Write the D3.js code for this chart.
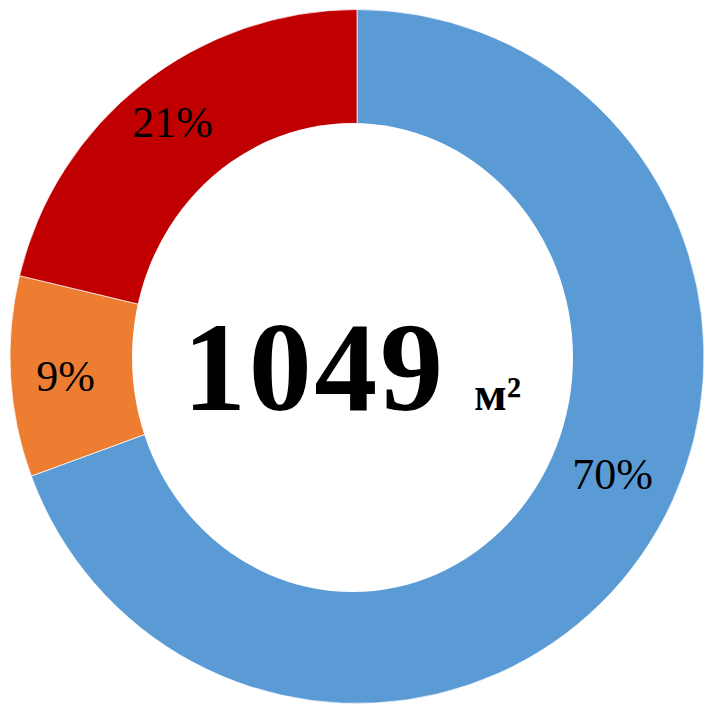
<!DOCTYPE html>
<html>
<head>
<meta charset="utf-8">
<script src="https://cdn.jsdelivr.net/npm/d3@7"></script>
<style>
	html, body { margin: 0; padding: 0; background: #fff; }
	svg { display: block; }
</style>
</head>
<body>
<svg id="svg_main" width="706" height="704"></svg>
<script>
// areas in m², share of the total
var categories = ["blue", "orange", "red"],
	values = [728, 98, 223],
	labels = ["70%", "9%", "21%"],
	colors = ["#5B9BD5", "#ED7D31", "#C00000"],
	total = 1049,
	unit = "м²";

function main() {
	var svg = d3.select("#svg_main");

	var cx = 357, cy = 356.5,
		outer = 347;

	var g = svg.append("g")
		.attr("transform", `translate(${cx}, ${cy})`);

	var pie = d3.pie().sort(null).value(d => d.v);
	var arcs = pie(values.map((v, i) => ({ v: v, i: i })));

	var arc = d3.arc().innerRadius(0).outerRadius(outer);

	g.selectAll(".slice")
		.data(arcs)
		.enter().append("path")
		.attr("class", "slice")
		.attr("d", arc)
		.attr("fill", d => colors[d.data.i])
		.attr("stroke", "#fff")
		.attr("stroke-width", 0.7);

	// hole (slightly oval in the original)
	svg.append("ellipse")
		.attr("cx", 352.5)
		.attr("cy", 357.5)
		.attr("rx", 220.5)
		.attr("ry", 234.5)
		.attr("fill", "#fff");

	// label placement: radius and small angle nudge per slice (degrees)
	var labelR = [281, 292, 299],
		nudge = [-10.3, -0.5, 0.2];

	g.selectAll(".lbl")
		.data(arcs)
		.enter().append("text")
		.attr("class", "lbl")
		.attr("transform", d => {
			var a = (d.startAngle + d.endAngle) / 2 + nudge[d.data.i] * Math.PI / 180,
				r = labelR[d.data.i];
			return `translate(${r * Math.sin(a)}, ${-r * Math.cos(a)})`;
		})
		.attr("text-anchor", "middle")
		.attr("dy", "0.35em")
		.attr("font-family", "Liberation Serif, serif")
		.attr("font-size", "44px")
		.attr("fill", "#000")
		.text(d => labels[d.data.i]);

	svg.append("text")
		.attr("x", 183)
		.attr("y", 410)
		.attr("font-family", "Liberation Serif, serif")
		.attr("font-size", "126px")
		.attr("font-weight", "bold")
		.attr("textLength", 260)
		.attr("fill", "#000")
		.text(total);

	svg.append("text")
		.attr("x", 474)
		.attr("y", 410)
		.attr("font-family", "Liberation Serif, serif")
		.attr("font-size", "48px")
		.attr("font-weight", "bold")
		.attr("fill", "#000")
		.text(unit);
}

main();
</script>
</body>
</html>
